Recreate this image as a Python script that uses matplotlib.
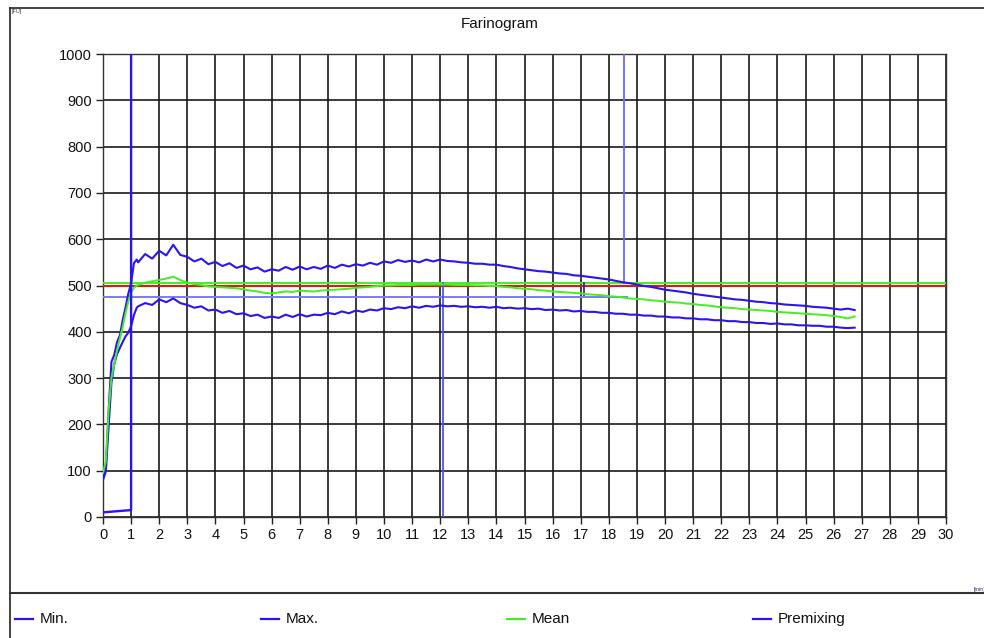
import numpy as np
import matplotlib
matplotlib.use("Agg")
import matplotlib.pyplot as plt
from matplotlib.lines import Line2D

plt.rcParams['font.family'] = ['Liberation Sans', 'DejaVu Sans']

# ---- data ----
t_early = np.round(np.arange(0, 1.21, 0.1), 2)
t_late = np.round(np.arange(1.25, 26.76, 0.25), 2)
time_min = np.concatenate([t_early, t_late])

max_fu = [85, 105, 230, 335, 350, 378, 392, 425, 452, 482, 505, 548, 556,
          550, 568, 558, 575, 565, 588, 566, 562, 552, 558, 546, 551, 542, 548, 538, 543,
          535, 539, 530, 535, 532, 540, 534, 541, 535, 540, 536, 543, 538, 545, 541, 546,
          543, 549, 545, 552, 549, 555, 551, 554, 550, 556, 552, 556, 553, 552, 550, 549,
          547, 547, 545, 545, 542, 540, 537, 535, 533, 531, 530, 528, 526, 525, 522, 521,
          519, 517, 515, 513, 510, 507, 505, 502, 499, 497, 494, 491, 489, 487, 485, 482,
          480, 478, 476, 474, 472, 470, 469, 467, 465, 464, 462, 461, 459, 458, 457, 456,
          454, 453, 452, 450, 448, 450, 447]

min_fu = [80, 98, 195, 290, 330, 352, 365, 378, 390, 398, 412, 436, 452,
          455, 462, 458, 470, 464, 472, 462, 458, 452, 455, 446, 448, 441, 445, 438, 440,
          434, 437, 430, 433, 430, 437, 432, 438, 433, 437, 436, 441, 438, 444, 440, 446,
          443, 448, 446, 451, 449, 453, 451, 455, 452, 456, 454, 457, 455, 456, 454, 455,
          453, 454, 452, 454, 451, 452, 450, 451, 449, 450, 447, 448, 446, 447, 444, 445,
          443, 443, 441, 441, 439, 439, 437, 437, 435, 435, 433, 433, 431, 431, 429, 429,
          427, 427, 425, 425, 423, 423, 421, 421, 419, 419, 417, 418, 416, 416, 414, 414,
          413, 413, 411, 411, 409, 408, 409]

mean_fu = [95, 120, 230, 300, 330, 360, 385, 410, 440, 465, 485, 495, 500,
           501, 506, 509, 512, 515, 519, 512, 506, 503, 501, 498, 497, 496, 495, 494, 492,
           489, 487, 484, 483, 485, 487, 486, 489, 488, 487, 489, 490, 491, 492, 493, 495,
           496, 497, 499, 500, 500, 501, 501, 501, 502, 502, 502, 502, 502, 501, 501, 501,
           500, 500, 499, 499, 497, 496, 494, 493, 492, 490, 489, 487, 486, 485, 484, 483,
           481, 480, 479, 477, 476, 474, 472, 471, 470, 468, 467, 465, 464, 463, 461, 460,
           458, 457, 455, 453, 452, 451, 449, 448, 447, 446, 445, 443, 442, 441, 440, 439,
           438, 437, 436, 434, 432, 429, 433]

premix_t = [0, 1.0, 1.0]
premix_fu = [10, 15, 1000]

target_fu = 500
mean_line_fu = 505
ref_line_fu = 475
ref_line_end = 18.65
dev_time = 12.1
dev_marker_fu = 505
stab_time = 18.55
stab_marker_fu = 505
mark_time = 17.1
mark_range = [480, 505]

x_ticks = list(range(0, 31))
y_ticks = list(range(0, 1001, 100))

BLUE = '#2a14f0'
GREEN = '#44ee22'
RED = '#c0281c'

# ---- figure ----
fig = plt.figure(figsize=(9.84, 6.38), dpi=100)
W, H = 984, 638
ax = fig.add_axes([103 / W, 1 - 517 / H, (946 - 103) / W, (517 - 54) / H])

ax.set_xlim(0, 30)
ax.set_ylim(0, 1000)
ax.set_xticks(x_ticks)
ax.set_yticks(y_ticks)
ax.grid(True, color='#1a1a1a', lw=1.2)
ax.set_axisbelow(True)
for s in ax.spines.values():
    s.set_color('#333333')
    s.set_linewidth(1.0)
ax.tick_params(direction='out', length=5, width=1, color='#222222',
               labelsize=10.5, labelcolor='#111111', pad=3)

# horizontal reference lines
ax.axhline(target_fu, color=RED, lw=1.6, zorder=3)
ax.axhline(mean_line_fu, color=GREEN, lw=1.4, zorder=3)
ax.plot([0, ref_line_end], [ref_line_fu, ref_line_fu], color='#7a7aff', lw=1.4, zorder=3)

# vertical markers
ax.plot([dev_time, dev_time], [0, dev_marker_fu], color='#5050ff', lw=1.3, zorder=4)
ax.plot([stab_time, stab_time], [stab_marker_fu, 1000], color='#6a6aff', lw=1.3, zorder=4)
ax.plot([mark_time, mark_time], mark_range, color='#2a2aa0', lw=1.3, zorder=4)

# curves
ax.plot(time_min, max_fu, color=BLUE, lw=1.5, zorder=5)
ax.plot(time_min, min_fu, color=BLUE, lw=1.5, zorder=5)
ax.plot(time_min, mean_fu, color=GREEN, lw=1.4, zorder=5)
ax.plot(premix_t, premix_fu, color=BLUE, lw=1.7, zorder=5)

# title
fig.text(500 / W, 1 - 24 / H, 'Farinogram', ha='center', va='center', fontsize=11, color='#111111')

# unit labels
fig.text(12 / W, 1 - 12 / H, '[FU]', ha='left', va='center', fontsize=4, color='#333366')
fig.text(974 / W, 1 - 589 / H, '[min]', ha='left', va='center', fontsize=4, color='#333366')

# outer frame
fig.add_artist(Line2D([10 / W, 10 / W], [0, 1 - 8 / H], color='#222222', lw=1.2))
fig.add_artist(Line2D([10 / W, 1], [1 - 8 / H, 1 - 8 / H], color='#222222', lw=1.2))
fig.add_artist(Line2D([10 / W, 1], [1 - 593 / H, 1 - 593 / H], color='#333333', lw=1.5))

# legend
legend_items = [('Min.', BLUE, 15), ('Max.', BLUE, 261), ('Mean', GREEN, 507), ('Premixing', BLUE, 753)]
ly = 1 - 619 / H
for label, col, x0 in legend_items:
    fig.add_artist(Line2D([x0 / W, (x0 + 18) / W], [ly, ly], color=col, lw=1.6))
    fig.text((x0 + 25) / W, ly, label, ha='left', va='center', fontsize=11, color='#111111')

fig.savefig('out.png', dpi=100)
